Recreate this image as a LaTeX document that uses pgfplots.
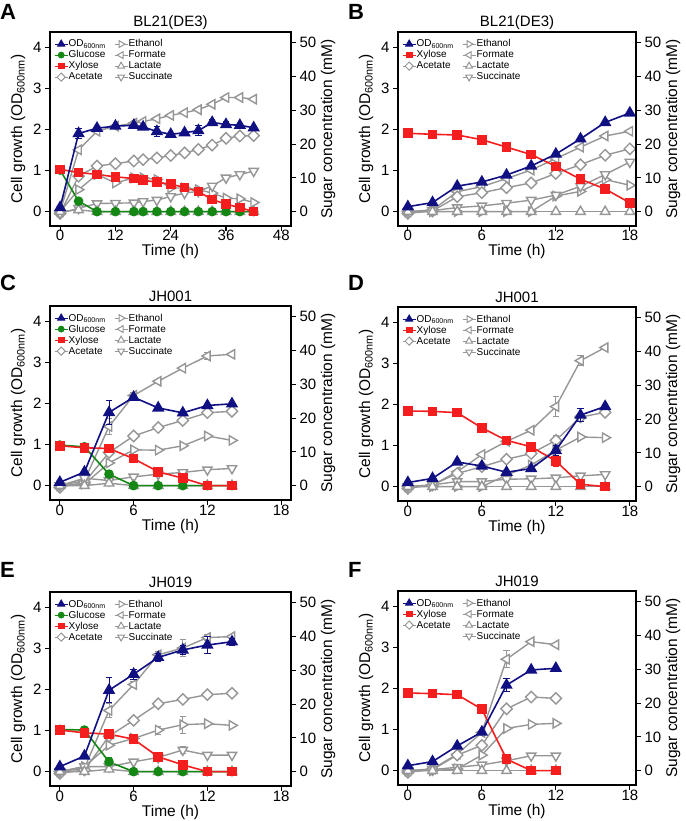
\documentclass[border=0pt]{standalone}
\usepackage{pgfplots}
\pgfplotsset{compat=1.18}
\usepackage{fontspec}
\setmainfont{Liberation Sans}

\definecolor{odblue}{RGB}{16,16,130}
\definecolor{glugreen}{RGB}{20,135,20}
\definecolor{xylred}{RGB}{245,30,30}
\definecolor{prodgray}{RGB}{150,150,150}

\pgfplotsset{
  panel/.style={scale only axis, height=194pt, tick align=outside, major tick length=5pt,
    ticklabel style={font=\fontsize{15}{16}\selectfont},
    /pgf/number format/assume math mode=true,
    label style={font=\fontsize{15.5}{17}\selectfont},
    axis line style={line width=1.1pt}, tick style={line width=1.1pt, black}},
  lax/.style={panel, ymin=-0.35, ymax=4.37, ytick={0,1,2,3,4}, tick pos=left,
    xlabel={Time (h)}, ylabel={Cell growth (OD\textsubscript{600nm})},
    xticklabel style={anchor=base, yshift=-10pt},
    xlabel style={at={(rel axis cs:0.5,0)}, anchor=base, yshift=-30pt},
    ylabel style={at={(rel axis cs:0,0.5)}, anchor=center, rotate=0, yshift=32pt},
    title style={font=\fontsize{15}{17}\selectfont, at={(0.5,1)}, anchor=base, yshift=-1pt},
    legend columns=2,
    legend style={at={(rel axis cs:0,1)}, anchor=north west, xshift=1pt, yshift=-5pt,
      draw=none, fill=none, font=\fontsize{10}{10}\selectfont, row sep=1.2pt,
      nodes={inner sep=0.5pt, text height=7.3pt, text depth=1.5pt},
      /tikz/every even column/.append style={column sep=8pt}},
    legend cell align=left,
    legend image code/.code={\draw[mark repeat=2, mark phase=2] plot coordinates {(0pt,0pt) (6.5pt,0pt) (13pt,0pt)};},
    legend image post style={line width=1pt, /tikz/every mark/.append style={scale=0.72}}},
  rax/.style={panel, ymin=-4.26, ymax=53.2, ytick={0,10,...,50}, axis y line*=right,
    axis x line=none, ylabel={Sugar concentration (mM)},
    ylabel style={at={(rel axis cs:1,0.5)}, anchor=center, yshift=-37pt}},
  od/.style={odblue, line width=1.6pt, mark=triangle*, mark size=5.6pt},
  glu/.style={glugreen, line width=1.6pt, mark=*, mark size=4pt},
  xyl/.style={xylred, line width=1.6pt, mark=square*, mark size=4pt},
  prod/.style={prodgray, line width=1.4pt},
  eth/.style={prod, mark=triangle*, mark size=5.4pt, mark options={rotate=-90, fill=white}},
  frm/.style={prod, mark=triangle*, mark size=5.4pt, mark options={rotate=90, fill=white}},
  lac/.style={prod, mark=triangle*, mark size=5.4pt, mark options={fill=white}},
  suc/.style={prod, mark=triangle*, mark size=5.4pt, mark options={rotate=180, fill=white}},
  ace/.style={prod, mark=square*, mark size=4pt, mark options={rotate=45, fill=white}},
  eb/.style={error bars/.cd, y dir=both, y explicit, error bar style={line width=1pt},
    error mark options={line width=1pt, mark size=3.2pt, rotate=90}},
}

\begin{document}
\begin{tikzpicture}
\useasboundingbox (0,0) rectangle (685pt,-821pt);

\node[font=\bfseries\fontsize{22}{22}\selectfont, anchor=base west, inner sep=0pt] at (0pt,-20pt) {A};
\node[font=\bfseries\fontsize{22}{22}\selectfont, anchor=base west, inner sep=0pt] at (348pt,-20pt) {B};
\node[font=\bfseries\fontsize{22}{22}\selectfont, anchor=base west, inner sep=0pt] at (0pt,-290pt) {C};
\node[font=\bfseries\fontsize{22}{22}\selectfont, anchor=base west, inner sep=0pt] at (348pt,-290pt) {D};
\node[font=\bfseries\fontsize{22}{22}\selectfont, anchor=base west, inner sep=0pt] at (0pt,-577pt) {E};
\node[font=\bfseries\fontsize{22}{22}\selectfont, anchor=base west, inner sep=0pt] at (348pt,-577pt) {F};

% ---------- A ----------
\begin{axis}[rax, at={(50pt,-32pt)}, anchor=north west, width=241pt,
  xmin=-2.2, xmax=50.1, xtick={0,12,24,36,48}]
\addplot[frm] coordinates {(0,0)(4,18.3)(8,23.8)(12,25.3)(16,26.2)(18,26.7)(21,27.5)(24,28.5)(27,29.3)(30,30.2)(33,31.8)(36,33.8)(39,33.8)(42,33.3)};
\addplot[ace] coordinates {(0,-0.5)(4,10.5)(8,13.5)(12,14.2)(16,15)(18,15.4)(21,15.9)(24,16.6)(27,17.4)(30,18.4)(33,19.7)(36,21.7)(39,22.4)(42,22.5)};
\addplot[eth] coordinates {(0,0)(4,6.5)(8,11)(12,8.5)(16,10)(18,10)(21,9.5)(24,7)(27,7)(30,6.5)(33,5.5)(36,4)(39,3.8)(42,2.7)};
\addplot[suc] coordinates {(0,-0.5)(4,1)(8,2.4)(12,2.5)(16,2.6)(18,3)(21,3.4)(24,4.5)(27,5.5)(30,6)(33,7.6)(36,10)(39,11)(42,12)};
\addplot[lac] coordinates {(0,0)(4,0.5)(8,0)(12,0)(16,0)(18,0)(21,0)(24,0)(27,0)(30,0)(33,0)(36,0)(39,0)(42,0)};
\addplot[glu] coordinates {(0,12.3)(4,3.1)(8,0)(12,0)(16,0)(18,0)(21,0)(24,0)(27,0)(30,0)(33,0)(36,0)(39,0)(42,0)};
\addplot[xyl] coordinates {(0,12.5)(4,11.6)(8,11.0)(12,10.3)(16,9.8)(18,9.3)(21,8.7)(24,8.1)(27,7.2)(30,5.9)(33,3.6)(36,2.2)(39,1.2)(42,0)};
\end{axis}
\begin{axis}[lax, at={(50pt,-32pt)}, anchor=north west, width=241pt,
  xmin=-2.2, xmax=50.1, xtick={0,12,24,36,48}, title={BL21(DE3)}]
\addplot[od, eb] coordinates {(0,0.1) (4,1.9) +- (0,0.12) (8,2.03) +- (0,0) (12,2.08) +- (0,0) (16,2.1) +- (0,0) (18,2.06) +- (0,0) (21,1.95) +- (0,0.12) (24,1.88) +- (0,0) (27,1.92) +- (0,0) (30,1.97) +- (0,0.12) (33,2.17) +- (0,0.08) (36,2.12) +- (0,0.08) (39,2.1) +- (0,0) (42,2.04) +- (0,0)};
\addlegendentry{OD\textsubscript{600nm}}
\addlegendimage{eth}\addlegendentry{Ethanol}
\addlegendimage{glu}\addlegendentry{Glucose}
\addlegendimage{frm}\addlegendentry{Formate}
\addlegendimage{xyl}\addlegendentry{Xylose}
\addlegendimage{lac}\addlegendentry{Lactate}
\addlegendimage{ace}\addlegendentry{Acetate}
\addlegendimage{suc}\addlegendentry{Succinate}
\end{axis}

% ---------- B ----------
\begin{axis}[rax, at={(398pt,-32pt)}, anchor=north west, width=238pt,
  xmin=-0.8, xmax=18.5, xtick={0,6,12,18}]
\addplot[frm] coordinates {(0,0)(2,0.5)(4,5.9)(6,7.4)(8,9.8)(10,12.3)(12,15.7)(14,19.1)(16,22.4)(18,23.8)};
\addplot[ace] coordinates {(0,-0.5)(2,0.2)(4,4.4)(6,5.6)(8,7.1)(10,8.5)(12,11.3)(14,13.9)(16,16.7)(18,18.6)};
\addplot[eth] coordinates {(0,0)(2,0)(4,0)(6,0)(8,0)(10,0)(12,4.6)(14,6)(16,9.5)(18,7.8)};
\addplot[suc] coordinates {(0,0)(2,0.3)(4,1.2)(6,1.7)(8,2.5)(10,3.4)(12,4.9)(14,7.5)(16,11)(18,14.7)};
\addplot[lac] coordinates {(0,0)(2,0)(4,0)(6,0)(8,0)(10,0)(12,0)(14,0)(16,0)(18,0)};
\addplot[xyl] coordinates {(0,23.2)(2,22.9)(4,22.7)(6,21.3)(8,19.1)(10,16.9)(12,13.4)(14,9.6)(16,6.7)(18,2.6)};
\end{axis}
\begin{axis}[lax, at={(398pt,-32pt)}, anchor=north west, width=238pt,
  xmin=-0.8, xmax=18.5, xtick={0,6,12,18}, title={BL21(DE3)}]
\addplot[od] coordinates {(0,0.12)(2,0.22)(4,0.62)(6,0.72)(8,0.89)(10,1.11)(12,1.4)(14,1.77)(16,2.17)(18,2.4)};
\addlegendentry{OD\textsubscript{600nm}}
\addlegendimage{eth}\addlegendentry{Ethanol}
\addlegendimage{xyl}\addlegendentry{Xylose}
\addlegendimage{frm}\addlegendentry{Formate}
\addlegendimage{ace}\addlegendentry{Acetate}
\addlegendimage{lac}\addlegendentry{Lactate}
\addlegendimage{empty legend}\addlegendentry{}
\addlegendimage{suc}\addlegendentry{Succinate}
\end{axis}

% ---------- C ----------
\begin{axis}[rax, at={(50pt,-306pt)}, anchor=north west, width=241pt,
  xmin=-0.8, xmax=18.8, xtick={0,6,12,18}]
\addplot[frm, eb] coordinates {(0,0) (2,1.5) +- (0,0) (4,17.5) +- (0,2.5) (6,26.7) +- (0,0.8) (8,30.9) +- (0,0) (10,34.8) +- (0,0) (12,38.4) +- (0,1) (14,38.9) +- (0,0)};
\addplot[ace] coordinates {(0,-0.5)(2,1)(4,9.8)(6,14.7)(8,17.2)(10,19.3)(12,21.6)(14,22)};
\addplot[eth] coordinates {(0,0)(2,0.5)(4,6.7)(6,10.6)(8,10.5)(10,11.8)(12,14.7)(14,13.4)};
\addplot[suc] coordinates {(0,0)(2,2.2)(4,1.5)(6,2.6)(8,3.4)(10,3.9)(12,4.7)(14,5.1)};
\addplot[lac] coordinates {(0,0)(2,0)(4,0.7)(6,0)(8,0)(10,0)(12,0)(14,0)};
\addplot[glu, eb] coordinates {(0,12) (2,11.5) +- (0,0) (4,3.4) +- (0,1.2) (6,0) +- (0,0) (8,0) +- (0,0) (10,0) +- (0,0) (12,0) +- (0,0) (14,0) +- (0,0)};
\addplot[xyl] coordinates {(0,11.8)(2,11.2)(4,11)(6,8)(8,4.1)(10,2.2)(12,0)(14,0)};
\end{axis}
\begin{axis}[lax, at={(50pt,-306pt)}, anchor=north west, width=241pt,
  xmin=-0.8, xmax=18.8, xtick={0,6,12,18}, title={JH001}]
\addplot[od, eb] coordinates {(0,0.08) (2,0.33) +- (0,0) (4,1.78) +- (0,0.3) (6,2.15) +- (0,0.05) (8,1.89) +- (0,0) (10,1.77) +- (0,0) (12,1.95) +- (0,0) (14,1.99) +- (0,0)};
\addlegendentry{OD\textsubscript{600nm}}
\addlegendimage{eth}\addlegendentry{Ethanol}
\addlegendimage{glu}\addlegendentry{Glucose}
\addlegendimage{frm}\addlegendentry{Formate}
\addlegendimage{xyl}\addlegendentry{Xylose}
\addlegendimage{lac}\addlegendentry{Lactate}
\addlegendimage{ace}\addlegendentry{Acetate}
\addlegendimage{suc}\addlegendentry{Succinate}
\end{axis}

% ---------- D ----------
\begin{axis}[rax, at={(398pt,-307pt)}, anchor=north west, width=238pt,
  xmin=-0.8, xmax=18.5, xtick={0,6,12,18}]
\addplot[frm, eb] coordinates {(0,0) (2,0.5) +- (0,0) (4,4.4) +- (0,0) (6,9.5) +- (0,0) (8,13.4) +- (0,0) (10,16.7) +- (0,0) (12,23.7) +- (0,3) (14,37.3) +- (0,1.5) (16,41.2) +- (0,0)};
\addplot[ace, eb] coordinates {(0,-0.5) (2,0.5) +- (0,0) (4,3.9) +- (0,0) (6,5.9) +- (0,0) (8,8.1) +- (0,0) (10,9.8) +- (0,0) (12,13.7) +- (0,1.5) (14,20.6) +- (0,0) (16,22) +- (0,0)};
\addplot[eth] coordinates {(0,0)(2,0)(4,0)(6,0)(8,3.4)(10,6.4)(12,10.8)(14,14.7)(16,14.5)};
\addplot[suc] coordinates {(0,0)(2,0.5)(4,1.5)(6,1.5)(8,2.2)(10,2.3)(12,2.6)(14,3.2)(16,3.6)};
\addplot[lac] coordinates {(0,0)(2,0)(4,0)(6,0)(8,0)(10,0)(12,0)(14,0)(16,0)};
\addplot[xyl, eb] coordinates {(0,22.4) (2,22.3) +- (0,0) (4,21.9) +- (0,0) (6,17.4) +- (0,0) (8,13.7) +- (0,0) (10,11.8) +- (0,0) (12,7.6) +- (0,1.5) (14,0.7) +- (0,0) (16,0) +- (0,0)};
\end{axis}
\begin{axis}[lax, at={(398pt,-307pt)}, anchor=north west, width=238pt,
  xmin=-0.8, xmax=18.5, xtick={0,6,12,18}, title={JH001}]
\addplot[od, eb] coordinates {(0,0.1) (2,0.2) +- (0,0) (4,0.6) +- (0,0) (6,0.5) +- (0,0) (8,0.35) +- (0,0) (10,0.44) +- (0,0) (12,0.88) +- (0,0.12) (14,1.74) +- (0,0.15) (16,1.95) +- (0,0.05)};
\addlegendentry{OD\textsubscript{600nm}}
\addlegendimage{eth}\addlegendentry{Ethanol}
\addlegendimage{xyl}\addlegendentry{Xylose}
\addlegendimage{frm}\addlegendentry{Formate}
\addlegendimage{ace}\addlegendentry{Acetate}
\addlegendimage{lac}\addlegendentry{Lactate}
\addlegendimage{empty legend}\addlegendentry{}
\addlegendimage{suc}\addlegendentry{Succinate}
\end{axis}

% ---------- E ----------
\begin{axis}[rax, at={(50pt,-592pt)}, anchor=north west, width=241pt,
  xmin=-0.8, xmax=18.8, xtick={0,6,12,18}]
\addplot[frm, eb] coordinates {(0,0) (2,1) +- (0,0) (4,18.1) +- (0,2) (6,25.8) +- (0,0.8) (8,34.6) +- (0,1) (10,36.6) +- (0,2.5) (12,39.7) +- (0,1) (14,40) +- (0,0.5)};
\addplot[ace] coordinates {(0,-0.5)(2,0.5)(4,10.5)(6,15.2)(8,20.1)(10,21.4)(12,22.8)(14,23.2)};
\addplot[eth, eb] coordinates {(0,0) (2,1.5) +- (0,0) (4,7.8) +- (0,0) (6,9.8) +- (0,0) (8,12.3) +- (0,1.2) (10,13.9) +- (0,2.5) (12,14.2) +- (0,0) (14,13.7) +- (0,0)};
\addplot[suc, eb] coordinates {(0,0) (2,1.5) +- (0,0) (4,1.5) +- (0,0) (6,2.9) +- (0,0) (8,4.2) +- (0,0) (10,6.4) +- (0,1) (12,4.9) +- (0,0) (14,4.9) +- (0,0)};
\addplot[lac] coordinates {(0,0)(2,0)(4,0.7)(6,0)(8,0)(10,0)(12,0)(14,0)};
\addplot[glu, eb] coordinates {(0,12.5) (2,12.3) +- (0,0) (4,2.9) +- (0,1.3) (6,0) +- (0,0) (8,0) +- (0,0) (10,0) +- (0,0) (12,0) +- (0,0) (14,0) +- (0,0)};
\addplot[xyl, eb] coordinates {(0,12.3) (2,11.5) +- (0,0) (4,11.1) +- (0,0) (6,9.6) +- (0,0) (8,4.4) +- (0,0) (10,2) +- (0,1.2) (12,0) +- (0,0) (14,0) +- (0,0)};
\end{axis}
\begin{axis}[lax, at={(50pt,-592pt)}, anchor=north west, width=241pt,
  xmin=-0.8, xmax=18.8, xtick={0,6,12,18}, title={JH019}]
\addplot[od, eb] coordinates {(0,0.12) (2,0.38) +- (0,0) (4,1.98) +- (0,0.3) (6,2.37) +- (0,0.12) (8,2.78) +- (0,0.1) (10,2.96) +- (0,0.12) (12,3.08) +- (0,0.2) (14,3.16) +- (0,0.08)};
\addlegendentry{OD\textsubscript{600nm}}
\addlegendimage{eth}\addlegendentry{Ethanol}
\addlegendimage{glu}\addlegendentry{Glucose}
\addlegendimage{frm}\addlegendentry{Formate}
\addlegendimage{xyl}\addlegendentry{Xylose}
\addlegendimage{lac}\addlegendentry{Lactate}
\addlegendimage{ace}\addlegendentry{Acetate}
\addlegendimage{suc}\addlegendentry{Succinate}
\end{axis}

% ---------- F ----------
\begin{axis}[rax, at={(398pt,-591pt)}, anchor=north west, width=238pt,
  xmin=-0.8, xmax=18.5, xtick={0,6,12,18}]
\addplot[frm, eb] coordinates {(0,0) (2,0.5) +- (0,0) (4,4.9) +- (0,0) (6,11.3) +- (0,0) (8,33) +- (0,2.5) (10,38.2) +- (0,0) (12,37.3) +- (0,0)};
\addplot[ace] coordinates {(0,-0.5)(2,0.3)(4,4.6)(6,7.5)(8,18.3)(10,21.8)(12,21.4)};
\addplot[eth] coordinates {(0,0)(2,0)(4,0.5)(6,4.6)(8,12.5)(10,13.7)(12,14)};
\addplot[suc] coordinates {(0,0)(2,0.3)(4,1)(6,1.7)(8,2.9)(10,4.4)(12,4.4)};
\addplot[lac] coordinates {(0,0)(2,0)(4,0)(6,0)(8,0)(10,0)(12,0)};
\addplot[xyl, eb] coordinates {(0,23) (2,22.8) +- (0,0) (4,22.5) +- (0,0) (6,18.2) +- (0,0) (8,3.4) +- (0,1) (10,0) +- (0,0) (12,0) +- (0,0)};
\end{axis}
\begin{axis}[lax, at={(398pt,-591pt)}, anchor=north west, width=238pt,
  xmin=-0.8, xmax=18.5, xtick={0,6,12,18}, title={JH019}]
\addplot[od, eb] coordinates {(0,0.12) (2,0.22) +- (0,0) (4,0.6) +- (0,0) (6,0.94) +- (0,0) (8,2.08) +- (0,0.15) (10,2.45) +- (0,0) (12,2.49) +- (0,0)};
\addlegendentry{OD\textsubscript{600nm}}
\addlegendimage{eth}\addlegendentry{Ethanol}
\addlegendimage{xyl}\addlegendentry{Xylose}
\addlegendimage{frm}\addlegendentry{Formate}
\addlegendimage{ace}\addlegendentry{Acetate}
\addlegendimage{lac}\addlegendentry{Lactate}
\addlegendimage{empty legend}\addlegendentry{}
\addlegendimage{suc}\addlegendentry{Succinate}
\end{axis}
\end{tikzpicture}
\end{document}
